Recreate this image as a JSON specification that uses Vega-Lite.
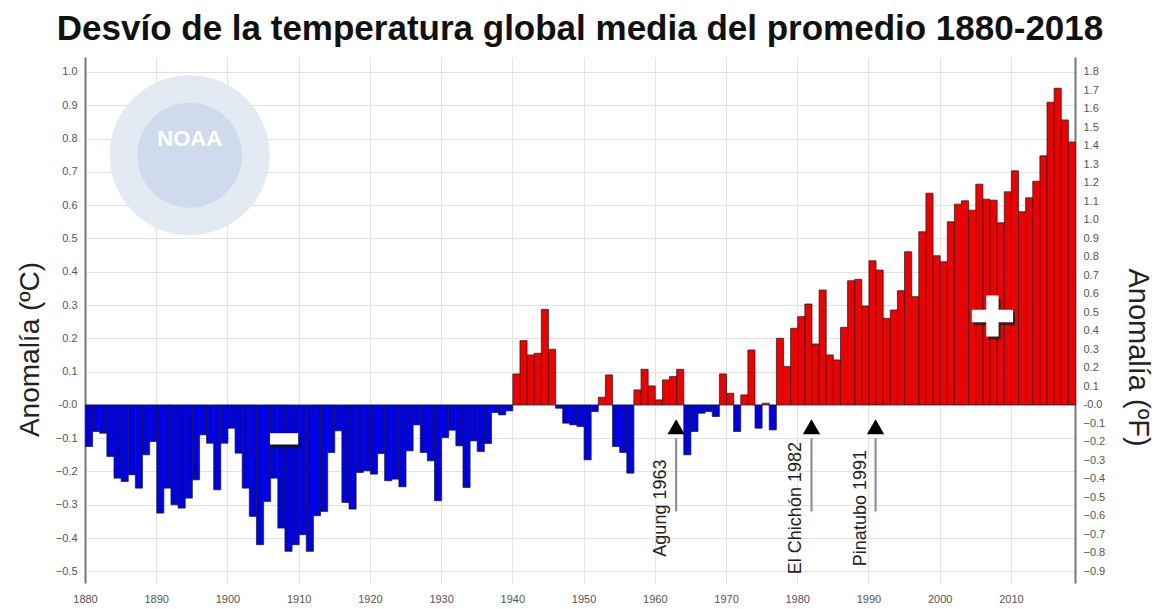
{
  "$schema": "https://vega.github.io/schema/vega-lite/v6.json",
  "width": 990,
  "height": 526,
  "autosize": {"type": "none"},
  "padding": {"left": 85, "top": 57, "right": 80, "bottom": 26},
  "background": "white",
  "title": {
    "text": "Desvío de la temperatura global media del promedio 1880-2018",
    "font": "Liberation Sans",
    "fontSize": 35,
    "fontWeight": "bold",
    "color": "#111111",
    "anchor": "middle",
    "offset": 10
  },
  "config": {
    "view": {"stroke": null},
    "axis": {
      "labelFont": "Liberation Sans",
      "labelFontSize": 11,
      "labelColor": "#555555",
      "labelOverlap": false,
      "labelFlush": false,
      "titleFont": "Liberation Sans",
      "titleFontWeight": "normal",
      "titleColor": "#222222",
      "gridColor": "#e2e2e2",
      "gridWidth": 1,
      "ticks": false
    }
  },
  "datasets": {
    "temp": [
      {"year": 1880, "anomaly": -0.125}, {"year": 1881, "anomaly": -0.08}, {"year": 1882, "anomaly": -0.085}, {"year": 1883, "anomaly": -0.155},
      {"year": 1884, "anomaly": -0.22}, {"year": 1885, "anomaly": -0.23}, {"year": 1886, "anomaly": -0.21}, {"year": 1887, "anomaly": -0.25},
      {"year": 1888, "anomaly": -0.15}, {"year": 1889, "anomaly": -0.11}, {"year": 1890, "anomaly": -0.325}, {"year": 1891, "anomaly": -0.25},
      {"year": 1892, "anomaly": -0.30}, {"year": 1893, "anomaly": -0.31}, {"year": 1894, "anomaly": -0.28}, {"year": 1895, "anomaly": -0.225},
      {"year": 1896, "anomaly": -0.09}, {"year": 1897, "anomaly": -0.115}, {"year": 1898, "anomaly": -0.255}, {"year": 1899, "anomaly": -0.115},
      {"year": 1900, "anomaly": -0.07}, {"year": 1901, "anomaly": -0.145}, {"year": 1902, "anomaly": -0.25}, {"year": 1903, "anomaly": -0.335},
      {"year": 1904, "anomaly": -0.42}, {"year": 1905, "anomaly": -0.29}, {"year": 1906, "anomaly": -0.22}, {"year": 1907, "anomaly": -0.37},
      {"year": 1908, "anomaly": -0.44}, {"year": 1909, "anomaly": -0.42}, {"year": 1910, "anomaly": -0.39}, {"year": 1911, "anomaly": -0.44},
      {"year": 1912, "anomaly": -0.333}, {"year": 1913, "anomaly": -0.32}, {"year": 1914, "anomaly": -0.143}, {"year": 1915, "anomaly": -0.078},
      {"year": 1916, "anomaly": -0.293}, {"year": 1917, "anomaly": -0.313}, {"year": 1918, "anomaly": -0.203}, {"year": 1919, "anomaly": -0.198},
      {"year": 1920, "anomaly": -0.208}, {"year": 1921, "anomaly": -0.146}, {"year": 1922, "anomaly": -0.228}, {"year": 1923, "anomaly": -0.223},
      {"year": 1924, "anomaly": -0.246}, {"year": 1925, "anomaly": -0.138}, {"year": 1926, "anomaly": -0.06}, {"year": 1927, "anomaly": -0.143},
      {"year": 1928, "anomaly": -0.168}, {"year": 1929, "anomaly": -0.288}, {"year": 1930, "anomaly": -0.098}, {"year": 1931, "anomaly": -0.076},
      {"year": 1932, "anomaly": -0.123}, {"year": 1933, "anomaly": -0.248}, {"year": 1934, "anomaly": -0.108}, {"year": 1935, "anomaly": -0.14},
      {"year": 1936, "anomaly": -0.116}, {"year": 1937, "anomaly": -0.023}, {"year": 1938, "anomaly": -0.03}, {"year": 1939, "anomaly": -0.018},
      {"year": 1940, "anomaly": 0.093}, {"year": 1941, "anomaly": 0.193}, {"year": 1942, "anomaly": 0.15}, {"year": 1943, "anomaly": 0.155},
      {"year": 1944, "anomaly": 0.287}, {"year": 1945, "anomaly": 0.167}, {"year": 1946, "anomaly": -0.01}, {"year": 1947, "anomaly": -0.055},
      {"year": 1948, "anomaly": -0.06}, {"year": 1949, "anomaly": -0.065}, {"year": 1950, "anomaly": -0.165}, {"year": 1951, "anomaly": -0.02},
      {"year": 1952, "anomaly": 0.023}, {"year": 1953, "anomaly": 0.09}, {"year": 1954, "anomaly": -0.125}, {"year": 1955, "anomaly": -0.143},
      {"year": 1956, "anomaly": -0.205}, {"year": 1957, "anomaly": 0.045}, {"year": 1958, "anomaly": 0.107}, {"year": 1959, "anomaly": 0.057},
      {"year": 1960, "anomaly": 0.015}, {"year": 1961, "anomaly": 0.075}, {"year": 1962, "anomaly": 0.085}, {"year": 1963, "anomaly": 0.107},
      {"year": 1964, "anomaly": -0.15}, {"year": 1965, "anomaly": -0.08}, {"year": 1966, "anomaly": -0.025}, {"year": 1967, "anomaly": -0.02},
      {"year": 1968, "anomaly": -0.035}, {"year": 1969, "anomaly": 0.093}, {"year": 1970, "anomaly": 0.035}, {"year": 1971, "anomaly": -0.08},
      {"year": 1972, "anomaly": 0.03}, {"year": 1973, "anomaly": 0.165}, {"year": 1974, "anomaly": -0.07}, {"year": 1975, "anomaly": 0.005},
      {"year": 1976, "anomaly": -0.075}, {"year": 1977, "anomaly": 0.2}, {"year": 1978, "anomaly": 0.115}, {"year": 1979, "anomaly": 0.23},
      {"year": 1980, "anomaly": 0.265}, {"year": 1981, "anomaly": 0.303}, {"year": 1982, "anomaly": 0.183}, {"year": 1983, "anomaly": 0.345},
      {"year": 1984, "anomaly": 0.15}, {"year": 1985, "anomaly": 0.135}, {"year": 1986, "anomaly": 0.233}, {"year": 1987, "anomaly": 0.373},
      {"year": 1988, "anomaly": 0.377}, {"year": 1989, "anomaly": 0.297}, {"year": 1990, "anomaly": 0.433}, {"year": 1991, "anomaly": 0.405},
      {"year": 1992, "anomaly": 0.26}, {"year": 1993, "anomaly": 0.285}, {"year": 1994, "anomaly": 0.343}, {"year": 1995, "anomaly": 0.46},
      {"year": 1996, "anomaly": 0.325}, {"year": 1997, "anomaly": 0.52}, {"year": 1998, "anomaly": 0.636}, {"year": 1999, "anomaly": 0.448},
      {"year": 2000, "anomaly": 0.43}, {"year": 2001, "anomaly": 0.55}, {"year": 2002, "anomaly": 0.603}, {"year": 2003, "anomaly": 0.613},
      {"year": 2004, "anomaly": 0.585}, {"year": 2005, "anomaly": 0.663}, {"year": 2006, "anomaly": 0.618}, {"year": 2007, "anomaly": 0.615},
      {"year": 2008, "anomaly": 0.547}, {"year": 2009, "anomaly": 0.64}, {"year": 2010, "anomaly": 0.703}, {"year": 2011, "anomaly": 0.58},
      {"year": 2012, "anomaly": 0.622}, {"year": 2013, "anomaly": 0.672}, {"year": 2014, "anomaly": 0.748}, {"year": 2015, "anomaly": 0.909},
      {"year": 2016, "anomaly": 0.951}, {"year": 2017, "anomaly": 0.856}, {"year": 2018, "anomaly": 0.79}
    ],
    "volc": [
      {"label": "Agung 1963", "year": 1963},
      {"label": "El Chichón 1982", "year": 1982},
      {"label": "Pinatubo 1991", "year": 1991}
    ]
  },
  "layer": [
    {
      "layer": [
        {
          "data": {"name": "temp"},
          "mark": {"type": "bar", "binSpacing": 0, "stroke": "#1b1b1b", "strokeWidth": 0.9, "strokeOpacity": 0.8},
          "encoding": {
            "x": {
              "field": "year",
              "type": "quantitative",
              "bin": {"step": 1, "extent": [1880, 2019]},
              "scale": {"domain": [1880, 2019], "nice": false, "zero": false},
              "axis": {
                "title": null,
                "values": [1880, 1890, 1900, 1910, 1920, 1930, 1940, 1950, 1960, 1970, 1980, 1990, 2000, 2010],
                "format": "d",
                "domain": false,
                "grid": true,
                "labelOverlap": false,
                "labelFlush": false,
                "labelPadding": 10
              }
            },
            "y": {
              "field": "anomaly",
              "type": "quantitative",
              "scale": {"domain": [-0.535, 1.045], "nice": false, "zero": false},
              "axis": {
                "title": "Anomalía (ºC)",
                "titleFontSize": 28,
                "titleAngle": 270,
                "titleX": -55,
                "titleY": 292,
                "titleAlign": "center",
                "titleBaseline": "middle",
                "values": [-0.5, -0.4, -0.3, -0.2, -0.1, 0, 0.1, 0.2, 0.3, 0.4, 0.5, 0.6, 0.7, 0.8, 0.9, 1.0],
                "labelExpr": "datum.value == 0 ? '-0.0' : format(datum.value, '.1f')",
                "labelOverlap": false,
                "labelBound": false,
                "domain": true,
                "domainColor": "#777777",
                "domainWidth": 2,
                "grid": true,
                "labelPadding": 8
              }
            },
            "y2": {"datum": 0},
            "color": {"condition": {"test": "datum.anomaly > 0", "value": "#f00000"}, "value": "#0000e6"}
          }
        },
        {
          "data": {"values": [{}]},
          "mark": {"type": "point", "filled": true, "shape": "circle", "color": "#e3eaf4", "opacity": 1, "size": 25600},
          "encoding": {
            "x": {"datum": 1894.7, "type": "quantitative", "axis": null},
            "y": {"datum": 0.75, "type": "quantitative", "axis": null}
          }
        },
        {
          "data": {"values": [{}]},
          "mark": {"type": "point", "filled": true, "shape": "circle", "color": "#cfdbec", "opacity": 1, "size": 11000},
          "encoding": {
            "x": {"datum": 1894.7, "type": "quantitative", "axis": null},
            "y": {"datum": 0.75, "type": "quantitative", "axis": null}
          }
        },
        {
          "data": {"values": [{}]},
          "mark": {"type": "text", "text": "NOAA", "font": "Liberation Sans", "fontWeight": "bold", "fontSize": 22, "color": "#ffffff", "align": "center", "baseline": "middle"},
          "encoding": {
            "x": {"datum": 1894.7, "type": "quantitative", "axis": null},
            "y": {"datum": 0.8, "type": "quantitative", "axis": null}
          }
        },
        {
          "data": {"name": "volc"},
          "mark": {"type": "rule", "color": "#888888", "strokeWidth": 2},
          "encoding": {
            "x": {"field": "year", "type": "quantitative", "axis": null},
            "y": {"datum": -0.32, "type": "quantitative", "axis": null},
            "y2": {"datum": -0.1}
          }
        },
        {
          "data": {"name": "volc"},
          "mark": {"type": "point", "shape": "triangle-up", "filled": true, "color": "#000000", "opacity": 1, "size": 300},
          "encoding": {
            "x": {"field": "year", "type": "quantitative", "axis": null},
            "y": {"datum": -0.066, "type": "quantitative", "axis": null}
          }
        },
        {
          "data": {"name": "volc"},
          "mark": {"type": "text", "angle": 270, "align": "center", "baseline": "bottom", "dy": -6, "font": "Liberation Sans", "fontSize": 18, "color": "#222222"},
          "encoding": {
            "x": {"field": "year", "type": "quantitative", "axis": null},
            "y": {"datum": -0.31, "type": "quantitative", "axis": null},
            "text": {"field": "label"}
          }
        },
        {
          "data": {"values": [{}]},
          "mark": {"type": "point", "filled": true, "shape": "M-1,-0.3H-0.3V-1H0.3V-0.3H1V0.3H0.3V1H-0.3V0.3H-1Z", "color": "#222222", "opacity": 0.9, "size": 1700, "xOffset": 2, "yOffset": 3},
          "encoding": {
            "x": {"datum": 2007.4, "type": "quantitative", "axis": null},
            "y": {"datum": 0.267, "type": "quantitative", "axis": null}
          }
        },
        {
          "data": {"values": [{}]},
          "mark": {"type": "point", "filled": true, "shape": "M-1,-0.3H-0.3V-1H0.3V-0.3H1V0.3H0.3V1H-0.3V0.3H-1Z", "color": "#ffffff", "opacity": 1, "size": 1700},
          "encoding": {
            "x": {"datum": 2007.4, "type": "quantitative", "axis": null},
            "y": {"datum": 0.267, "type": "quantitative", "axis": null}
          }
        },
        {
          "data": {"values": [{}]},
          "mark": {"type": "point", "filled": true, "shape": "M-1,-0.4H1V0.4H-1Z", "color": "#111111", "opacity": 0.9, "size": 800, "xOffset": 2, "yOffset": 3},
          "encoding": {
            "x": {"datum": 1907.95, "type": "quantitative", "axis": null},
            "y": {"datum": -0.102, "type": "quantitative", "axis": null}
          }
        },
        {
          "data": {"values": [{}]},
          "mark": {"type": "point", "filled": true, "shape": "M-1,-0.4H1V0.4H-1Z", "color": "#ffffff", "opacity": 1, "size": 800},
          "encoding": {
            "x": {"datum": 1907.95, "type": "quantitative", "axis": null},
            "y": {"datum": -0.102, "type": "quantitative", "axis": null}
          }
        }
      ],
      "resolve": {"axis": {"x": "independent", "y": "independent"}}
    },
    {
      "data": {"values": [{"f": -0.9}, {"f": 1.8}]},
      "mark": {"type": "rule", "opacity": 0},
      "encoding": {
        "y": {
          "field": "f",
          "type": "quantitative",
          "scale": {"domain": [-0.963, 1.881], "nice": false, "zero": false},
          "axis": {
            "orient": "right",
            "title": "Anomalía (ºF)",
            "titleFontSize": 29,
            "titleAngle": 90,
            "titleX": 62,
            "titleY": 300,
            "titleAlign": "center",
            "titleBaseline": "middle",
            "values": [-0.9, -0.8, -0.7, -0.6, -0.5, -0.4, -0.3, -0.2, -0.1, 0, 0.1, 0.2, 0.3, 0.4, 0.5, 0.6, 0.7, 0.8, 0.9, 1.0, 1.1, 1.2, 1.3, 1.4, 1.5, 1.6, 1.7, 1.8],
            "labelExpr": "datum.value == 0 ? '-0.0' : format(datum.value, '.1f')",
            "labelOverlap": false,
            "domain": true,
            "domainColor": "#777777",
            "domainWidth": 2,
            "grid": false,
            "labelPadding": 8
          }
        }
      }
    }
  ],
  "resolve": {"scale": {"y": "independent"}, "axis": {"y": "independent"}}
}
